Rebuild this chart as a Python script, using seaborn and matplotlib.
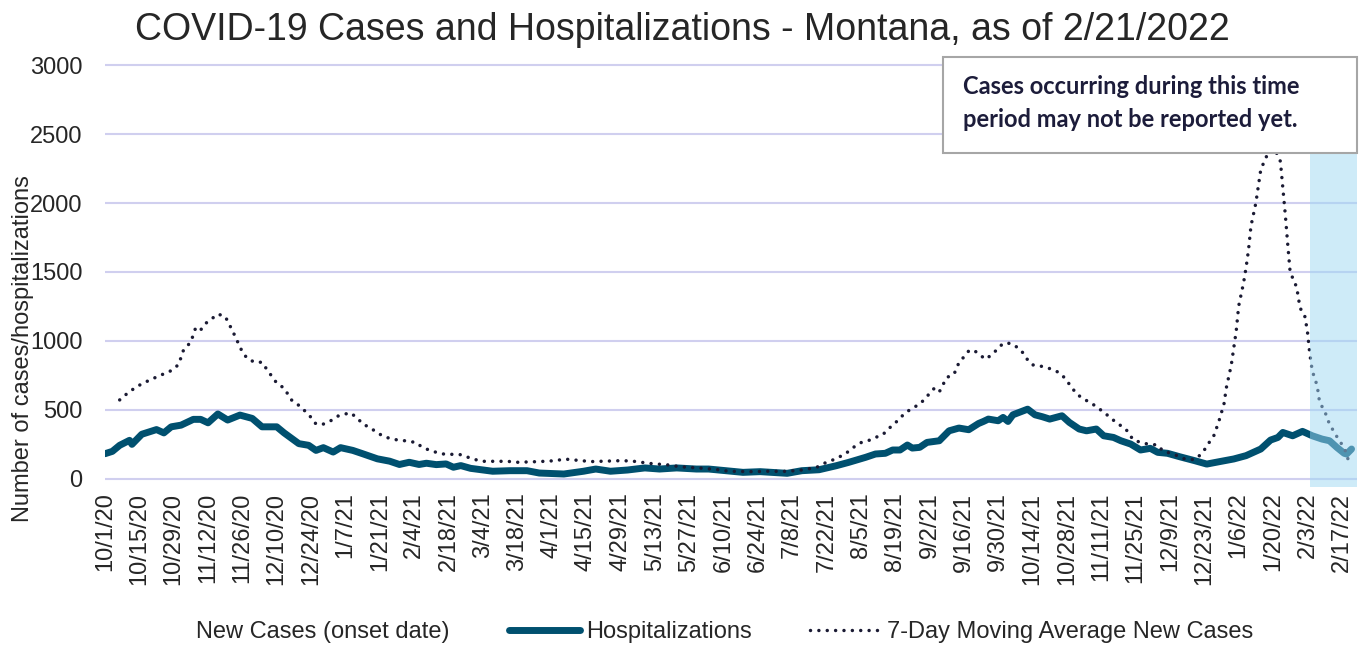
import pandas as pd
import matplotlib.pyplot as plt
import matplotlib.dates as mdates
from matplotlib.lines import Line2D
from matplotlib.patches import Patch, Rectangle
import seaborn as sns

START = pd.Timestamp("2020-10-01")

# hospitalizations (days since 10/1/2020, count)
hosp_day = [0, 3, 6, 10, 11, 15, 21, 24, 27, 31, 36, 39, 42, 46, 50, 55, 60, 64, 70, 73,
            79, 83, 86, 89, 93, 96, 101, 105, 111, 116, 120, 124, 128, 131, 135, 139, 142,
            145, 149, 158, 165, 172, 177, 187, 195, 200, 206, 213, 220, 226, 233, 241, 246,
            253, 260, 267, 278, 284, 291, 298, 303, 310, 314, 318, 321, 324, 327, 329, 332,
            335, 340, 344, 348, 352, 356, 358, 360, 364, 366, 368, 370, 376, 379, 382, 385,
            390, 393, 397, 400, 404, 407, 411, 414, 418, 422, 426, 429, 433, 438, 444, 449,
            454, 460, 465, 471, 475, 478, 480, 484, 488, 492, 496, 499, 502, 505, 506, 508]
hosp_count = [183, 200, 244, 280, 251, 324, 358, 334, 378, 390, 432, 432, 407, 471, 427, 463,
              439, 378, 378, 334, 256, 244, 207, 227, 195, 227, 207, 183, 146, 129, 105, 121,
              105, 114, 104, 109, 85, 97, 77, 56, 60, 60, 43, 36, 56, 72, 56, 65, 80, 72, 80,
              72, 72, 60, 48, 53, 41, 60, 67, 96, 120, 157, 181, 186, 210, 210, 246, 224, 229,
              265, 277, 349, 369, 357, 402, 417, 434, 422, 446, 417, 465, 506, 465, 451, 434,
              458, 410, 362, 349, 362, 313, 301, 277, 253, 210, 222, 193, 186, 161, 133, 108,
              125, 145, 169, 217, 282, 301, 337, 313, 345, 313, 289, 277, 229, 186, 181, 217]

# 7-day moving average of new cases
ma_day = [6, 10, 15, 21, 27, 30, 32, 35, 37, 39, 41, 46, 49, 52, 56, 58, 61, 64, 66, 70, 73,
          76, 80, 84, 86, 89, 92, 95, 98, 100, 103, 105, 108, 111, 114, 117, 120, 123, 127,
          128, 131, 135, 138, 145, 148, 151, 154, 164, 168, 177, 184, 187, 191, 198, 211,
          217, 221, 230, 234, 244, 251, 254, 264, 270, 278, 284, 290, 293, 296, 299, 302,
          305, 308, 311, 314, 317, 319, 322, 326, 329, 332, 334, 336, 338, 340, 343, 346,
          348, 350, 352, 354, 357, 359, 362, 364, 366, 369, 372, 374, 376, 378, 381, 384,
          388, 390, 393, 396, 399, 402, 405, 408, 410, 413, 416, 419, 422, 425, 429, 431,
          435, 437, 440, 444, 446, 448, 450, 452, 454, 456, 457, 459, 460, 461, 462, 464,
          465, 466, 467, 469, 470, 471, 473, 475, 477, 479, 480, 481, 482, 483, 485, 486,
          487, 489, 490, 491, 492, 494, 495, 497, 499, 501, 503, 505, 507]
ma_cases = [573, 634, 690, 739, 785, 829, 934, 993, 1098, 1080, 1127, 1195, 1178, 1073, 920,
            873, 846, 846, 793, 695, 658, 573, 520, 446, 398, 398, 422, 456, 471, 480, 439,
            398, 373, 334, 305, 290, 280, 276, 263, 246, 217, 193, 181, 176, 157, 140, 128,
            128, 121, 126, 133, 145, 138, 126, 133, 126, 114, 101, 89, 77, 65, 56, 53, 56,
            55, 65, 84, 113, 133, 157, 186, 229, 263, 277, 301, 321, 359, 405, 477, 513, 542,
            578, 619, 658, 631, 735, 759, 843, 884, 928, 935, 892, 868, 911, 947, 983, 983,
            952, 916, 863, 827, 819, 807, 778, 755, 687, 615, 578, 549, 511, 470, 439, 398,
            362, 284, 265, 253, 246, 205, 181, 169, 145, 140, 169, 210, 265, 318, 422, 542,
            663, 827, 947, 1072, 1253, 1422, 1530, 1658, 1832, 2000, 2121, 2241, 2326, 2390,
            2380, 2302, 2109, 1916, 1699, 1494, 1422, 1350, 1241, 1176, 1072, 904, 783, 675,
            554, 494, 398, 337, 277, 229, 120]

title = "COVID-19 Cases and Hospitalizations - Montana, as of 2/21/2022"
note = "Cases occurring during this time\nperiod may not be reported yet."
incomplete_from = "2022-02-04"
y_ticks = [0, 500, 1000, 1500, 2000, 2500, 3000]

hosp = pd.DataFrame({"date": START + pd.to_timedelta(hosp_day, unit="D"), "value": hosp_count})
ma = pd.DataFrame({"date": START + pd.to_timedelta(ma_day, unit="D"), "value": ma_cases})

sns.set_theme(style="white")
plt.rcParams["font.family"] = ["Liberation Sans", "DejaVu Sans"]

fig = plt.figure(figsize=(13.65, 6.45), dpi=100)
ax = fig.add_axes([0.0769, 0.245, 0.9172, 0.6651])

hosp_color = "#00506F"
dot_color = "#1A1A33"

sns.lineplot(data=hosp, x="date", y="value", ax=ax, color=hosp_color, linewidth=5, zorder=3)
sns.lineplot(data=ma, x="date", y="value", ax=ax, color=dot_color, linewidth=2.5,
             linestyle=(0, (0.01, 2.4)), dash_capstyle="round", zorder=4)

# reporting-lag period, drawn over the lines
ax.axvspan(pd.Timestamp(incomplete_from), START + pd.Timedelta(days=511),
           color="#9ED8F3", alpha=0.5, lw=0, zorder=5)

ax.set_ylim(-58, 3051)
ax.set_xlim(START, START + pd.Timedelta(days=510.2))
ax.set_yticks(y_ticks)
ax.yaxis.grid(True, color="#D0CFEF", linewidth=1.5)
ax.set_axisbelow(True)
for s in ax.spines.values():
    s.set_visible(False)

tick_dates = pd.date_range("2020-10-01", "2022-02-17", freq="14D")
ax.set_xticks(mdates.date2num(tick_dates))
ax.set_xticklabels([f"{d.month}/{d.day}/{d.year % 100}" for d in tick_dates], rotation=90)
ax.tick_params(axis="x", labelsize=17, pad=4, length=0)
ax.tick_params(axis="y", labelsize=17, pad=16, length=0)
ax.set_xlabel("")
ax.set_ylabel("Number of cases/hospitalizations", fontsize=17)
ax.yaxis.set_label_coords(-0.057, 0.322)

fig.text(0.5, 0.953, title, ha="center", va="center", fontsize=27)

# note box over the top right of the plot
fig.patches.append(Rectangle((0.6908, 0.7628), 0.3033, 0.1488, transform=fig.transFigure,
                             facecolor="white", edgecolor="#A6A6A6", linewidth=1.5, zorder=10))
fig.text(0.7055, 0.840, note, ha="left", va="center", fontsize=17, fontweight="bold",
         color="#1C1C3A", linespacing=1.55, family=["Lato", "DejaVu Sans"], zorder=11)

handles = [Patch(facecolor="white", edgecolor="white"),
           Line2D([], [], color=hosp_color, linewidth=5),
           Line2D([], [], color=dot_color, linewidth=2.5, linestyle=(0, (0.01, 2.4)),
                  dash_capstyle="round")]
labels = ["New Cases (onset date)", "Hospitalizations", "7-Day Moving Average New Cases"]
fig.legend(handles, labels, loc="center", bbox_to_anchor=(0.503, 0.02), ncol=3,
           frameon=False, fontsize=17, handlelength=3.0, handletextpad=0.25,
           columnspacing=2.5)

plt.savefig("out.png", dpi=100)
